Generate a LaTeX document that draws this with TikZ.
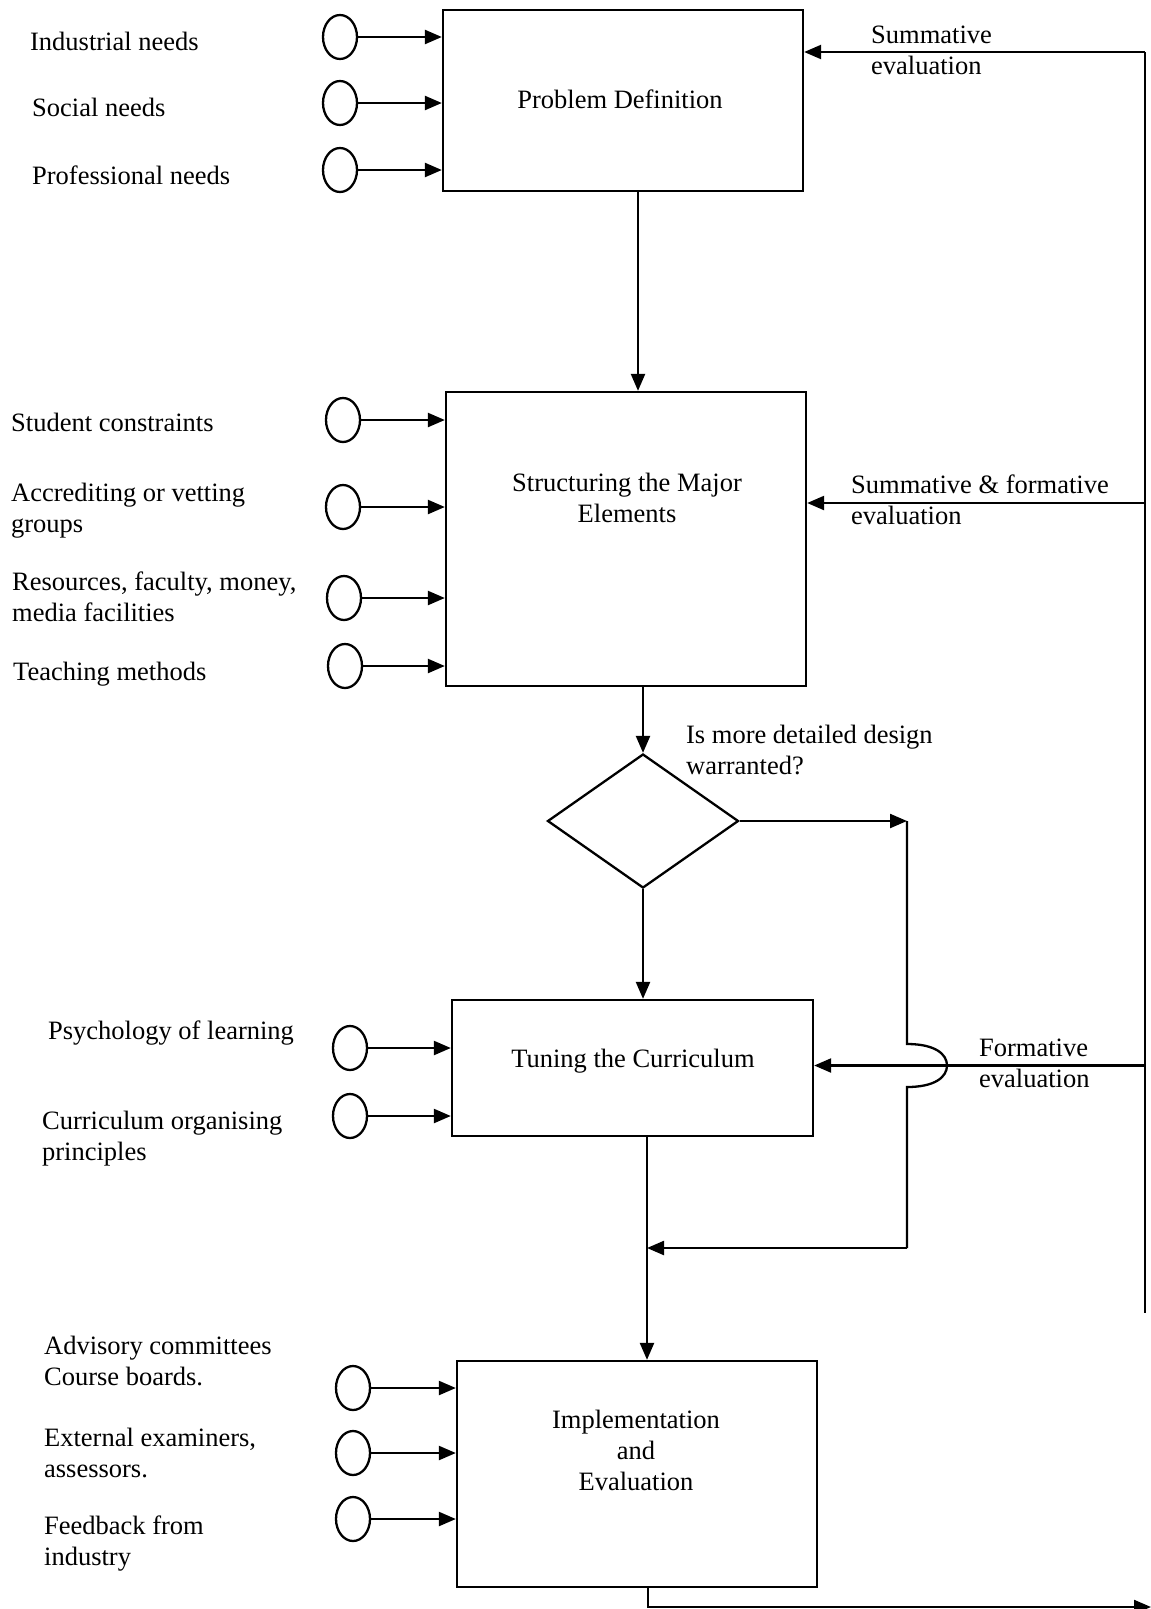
\documentclass[tikz,border=0pt]{standalone}
\usepackage{fontspec}
\setmainfont{Liberation Serif}
\usetikzlibrary{shapes.geometric,arrows.meta}
\begin{document}
\begin{tikzpicture}[x=1pt,y=-1pt,
  line width=2.3pt,
  >={Triangle[length=17pt,width=14pt]},
  box/.style={draw,rectangle,inner sep=0pt},
  src/.style={draw,ellipse,minimum width=34pt,minimum height=44pt,inner sep=0pt},
  txt/.style={inner sep=0pt,font=\fontsize{26.5}{31}\selectfont},
  lbl/.style={txt,anchor=base west,align=left},
  ctr/.style={txt,anchor=base,align=center}
]
\useasboundingbox[fill=white] (0,0) rectangle (1151,1609);

% main boxes
\node[box,minimum width=360pt,minimum height=181pt] (pd) at (623,100.5) {};
\node[box,minimum width=360pt,minimum height=294pt] (sm) at (626,539) {};
\node[box,minimum width=361pt,minimum height=136pt] (tc) at (632.5,1068) {};
\node[box,minimum width=360pt,minimum height=226pt] (ie) at (637,1474) {};
\node[draw,diamond,minimum width=191pt,minimum height=134pt,inner sep=0pt] (dq) at (643,821) {};

% box texts (multi-line nodes: base = last line)
\node[ctr] (pdt) at (620,108) {Problem Definition};
\node[ctr] (smt) at (627,522) {Structuring the Major\\Elements};
\node[ctr] (tct) at (633,1067) {Tuning the Curriculum};
\node[ctr] (iet) at (636,1490) {Implementation\\and\\Evaluation};

% inputs to problem definition
\node[src] (c1) at (340,37) {};
\node[src] (c2) at (340,103) {};
\node[src] (c3) at (340,170) {};
\node[lbl] (l1) at (29,50) {Industrial needs};
\node[lbl] (l2) at (31,116) {Social needs};
\node[lbl] (l3) at (31,184) {Professional needs};

% inputs to structuring
\node[src] (c4) at (343,420) {};
\node[src] (c5) at (343,507) {};
\node[src] (c6) at (344,598) {};
\node[src] (c7) at (345,666) {};
\node[lbl] (l4) at (10,431) {Student constraints};
\node[lbl] (l5) at (10,532) {Accrediting or vetting\\groups};
\node[lbl] (l6) at (11,621) {Resources, faculty, money,\\media facilities};
\node[lbl] (l7) at (12,680) {Teaching methods};

% inputs to tuning
\node[src] (c8) at (350,1048) {};
\node[src] (c9) at (350,1116) {};
\node[lbl] (l8) at (47,1039) {Psychology of learning};
\node[lbl] (l9) at (41,1160) {Curriculum organising\\principles};

% inputs to implementation
\node[src] (c10) at (353,1388) {};
\node[src] (c11) at (353,1453) {};
\node[src] (c12) at (353,1519) {};
\node[lbl] (l10) at (43,1385) {Advisory committees\\Course boards.};
\node[lbl] (l11) at (43,1477) {External examiners,\\assessors.};
\node[lbl] (l12) at (43,1565) {Feedback from\\industry};

% side labels
\node[lbl] (s1) at (870,74) {Summative\\evaluation};
\node[lbl] (s2) at (850,524) {Summative \& formative\\evaluation};
\node[lbl] (s3) at (978,1087) {Formative\\evaluation};
\node[lbl] (q) at (685,774) {Is more detailed design\\warranted?};

% input arrows
\foreach \c/\b in {c1/pd,c2/pd,c3/pd,c4/sm,c5/sm,c6/sm,c7/sm,c8/tc,c9/tc,c10/ie,c11/ie,c12/ie}
  \draw[->] (\c.east) -- (\c.east -| \b.west);

% coordinates
\coordinate (rtop) at (1145,52);
\coordinate (rbot) at (1145,1313);
\coordinate (bya) at (907,821);
\coordinate (byb) at (907,1044);
\coordinate (byc) at (907,1087);
\coordinate (byd) at (907,1248);
\coordinate (joinpt) at (647,1248);
\coordinate (outa) at (648,1607);
\coordinate (outb) at (1151,1607);

% main flow
\draw[->] (638,191) coordinate (pdo) -- (pdo |- sm.north);
\draw[->] (dq.north |- sm.south) -- (dq.north);
\draw[->] (dq.south) -- (dq.south |- tc.north);
\draw[->] (647,1136) coordinate (tco) -- (tco |- ie.north);

% bypass from the decision
\draw[->] (dq.east) -- (bya);
\draw (bya) -- (byb) .. controls (935,1044) and (947,1054) .. (947,1065.5)
      .. controls (947,1077) and (935,1087) .. (byc) -- (byd);
\draw[->] (byd) -- (joinpt);

% feedback
\draw (rtop) -- (rbot);
\draw[->] (rtop) -- (rtop -| pd.east);
\draw[->] (1145,503) coordinate (rf2) -- (rf2 -| sm.east);
\draw[->] (1145,1065.5) coordinate (rf3) -- (rf3 -| tc.east);

% output
\draw[->] (outa |- ie.south) -- (outa) -- (outb);
\end{tikzpicture}
\end{document}
